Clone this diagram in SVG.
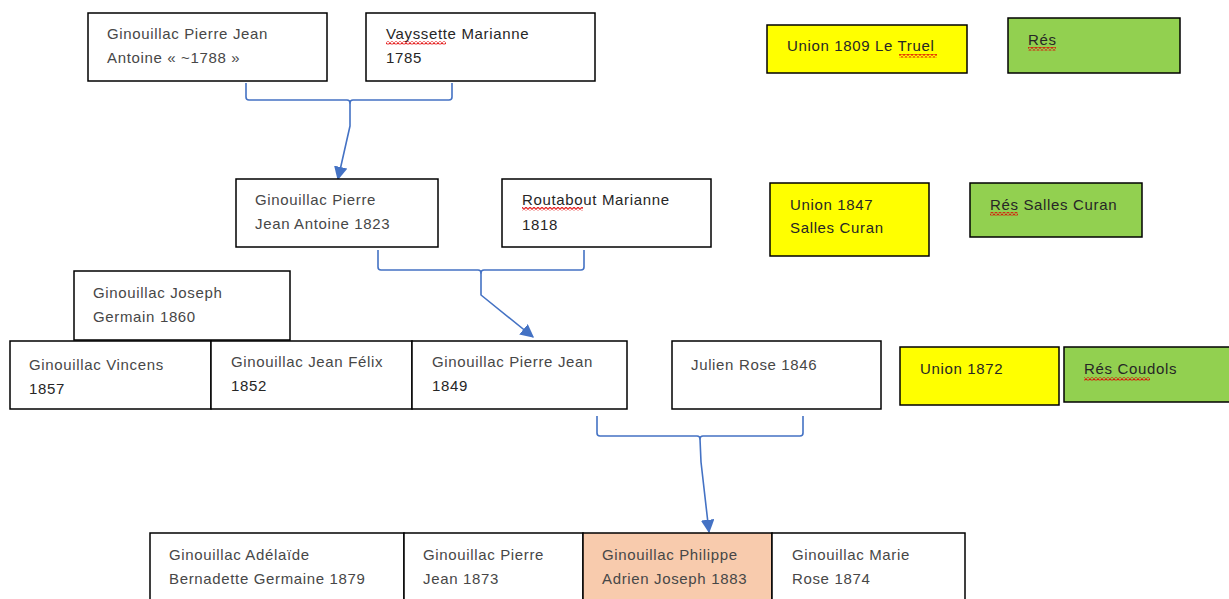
<svg xmlns="http://www.w3.org/2000/svg" width="1229" height="599" viewBox="0 0 1229 599">
<style>
.box{fill:#fff;stroke:#000;stroke-width:1.5}
.yel{fill:#ffff00;stroke:#000;stroke-width:1.5}
.grn{fill:#92d050;stroke:#000;stroke-width:1.5}
.pch{fill:#f8cbad;stroke:#000;stroke-width:1.5}
text{font-family:"Liberation Sans",Arial,sans-serif;font-size:15px;letter-spacing:0.65px;fill:#474747}
.dk{fill:#262626}
.con{fill:none;stroke:#4472c4;stroke-width:1.6;stroke-linejoin:round}
</style>
<defs>
<marker id="ah" viewBox="0 0 10 10" refX="9" refY="5" markerWidth="8.5" markerHeight="8.5" orient="auto" markerUnits="strokeWidth"><path d="M0,0 L10,5 L0,10 z" fill="#4472c4"/></marker>
<pattern id="sq" patternUnits="userSpaceOnUse" width="4" height="3.5"><path d="M0,3 L2,0.7 L4,3" fill="none" stroke="#e00000" stroke-width="1.1"/></pattern>
</defs>
<rect width="1229" height="599" fill="#fff"/>
<g id="connectors">
<path class="con" d="M246,83 L246,97 Q246,100 249,100 L347,100 Q350,100 350,103 Q350,100 353,100 L449,100 Q452,100 452,97 L452,83"/>
<path class="con" d="M350,103 L350,126 L338,179" marker-end="url(#ah)"/>
<path class="con" d="M378,250 L378,267 Q378,270 381,270 L478,270 Q481,270 481,273 Q481,270 484,270 L581,270 Q584,270 584,267 L584,250"/>
<path class="con" d="M481,273 L481,295 L533,337" marker-end="url(#ah)"/>
<path class="con" d="M597,416 L597,433 Q597,436 600,436 L697,436 Q700,436 700,439 Q700,436 703,436 L800,436 Q803,436 803,433 L803,416"/>
<path class="con" d="M700,439 L701,462 L709,532" marker-end="url(#ah)"/>
</g>
<g id="n-pierre1788"><rect class="box" x="88" y="13" width="239" height="68"/><text x="107" y="39">Ginouillac Pierre Jean</text><text x="107" y="63">Antoine « ~1788 »</text></g>
<g id="n-vayssette"><rect class="box" x="366" y="13" width="229" height="68"/><text x="386" y="39" class="dk">Vayssette Marianne</text><text x="386" y="63" class="dk">1785</text><rect x="386" y="41" width="60" height="3.5" fill="url(#sq)"/></g>
<g id="n-union1809"><rect class="yel" x="767" y="25" width="200" height="48"/><text x="787" y="51" class="dk">Union 1809 Le Truel</text><rect x="899" y="54" width="38" height="3.5" fill="url(#sq)"/></g>
<g id="n-res1"><rect class="grn" x="1008" y="18" width="172" height="55"/><text x="1028" y="45" class="dk">Rés</text><rect x="1028" y="47" width="28" height="3.5" fill="url(#sq)"/></g>
<g id="n-pierre1823"><rect class="box" x="236" y="179" width="202" height="68"/><text x="255" y="205">Ginouillac Pierre</text><text x="255" y="229">Jean Antoine 1823</text></g>
<g id="n-routabout"><rect class="box" x="502" y="179" width="209" height="68"/><text x="522" y="205" class="dk">Routabout Marianne</text><text x="522" y="230" class="dk">1818</text><rect x="522" y="207" width="61" height="3.5" fill="url(#sq)"/></g>
<g id="n-union1847"><rect class="yel" x="770" y="183" width="159" height="73"/><text x="790" y="210" class="dk">Union 1847</text><text x="790" y="233" class="dk">Salles Curan</text></g>
<g id="n-res2"><rect class="grn" x="970" y="183" width="172" height="54"/><text x="990" y="210" class="dk">Rés Salles Curan</text><rect x="990" y="212" width="28" height="3.5" fill="url(#sq)"/></g>
<g id="n-joseph"><rect class="box" x="74" y="271" width="216" height="69"/><text x="93" y="298">Ginouillac Joseph</text><text x="93" y="322">Germain 1860</text></g>
<g id="n-vincens"><rect class="box" x="10" y="341" width="201" height="68"/><text x="29" y="370">Ginouillac Vincens</text><text x="29" y="394" class="dk">1857</text></g>
<g id="n-jeanfelix"><rect class="box" x="211" y="341" width="201" height="68"/><text x="231" y="367">Ginouillac Jean Félix</text><text x="231" y="391" class="dk">1852</text></g>
<g id="n-pierre1849"><rect class="box" x="412" y="341" width="215" height="68"/><text x="432" y="367">Ginouillac Pierre Jean</text><text x="432" y="391" class="dk">1849</text></g>
<g id="n-julien"><rect class="box" x="672" y="341" width="209" height="68"/><text x="691" y="370">Julien Rose 1846</text></g>
<g id="n-union1872"><rect class="yel" x="900" y="347" width="159" height="58"/><text x="920" y="374" class="dk">Union 1872</text></g>
<g id="n-res3"><rect class="grn" x="1064" y="347" width="170" height="55"/><text x="1084" y="374" class="dk">Rés Coudols</text><rect x="1084" y="377" width="66" height="3.5" fill="url(#sq)"/></g>
<g id="n-adelaide"><rect class="box" x="150" y="533" width="254" height="70"/><text x="169" y="560">Ginouillac Adélaïde</text><text x="169" y="584">Bernadette Germaine 1879</text></g>
<g id="n-pierre1873"><rect class="box" x="404" y="533" width="179" height="70"/><text x="423" y="560">Ginouillac Pierre</text><text x="423" y="584">Jean 1873</text></g>
<g id="n-philippe"><rect class="pch" x="583" y="533" width="189" height="70"/><text x="602" y="560">Ginouillac Philippe</text><text x="602" y="584">Adrien Joseph 1883</text></g>
<g id="n-marie"><rect class="box" x="772" y="533" width="193" height="70"/><text x="792" y="560">Ginouillac Marie</text><text x="792" y="584">Rose 1874</text></g>
</svg>
